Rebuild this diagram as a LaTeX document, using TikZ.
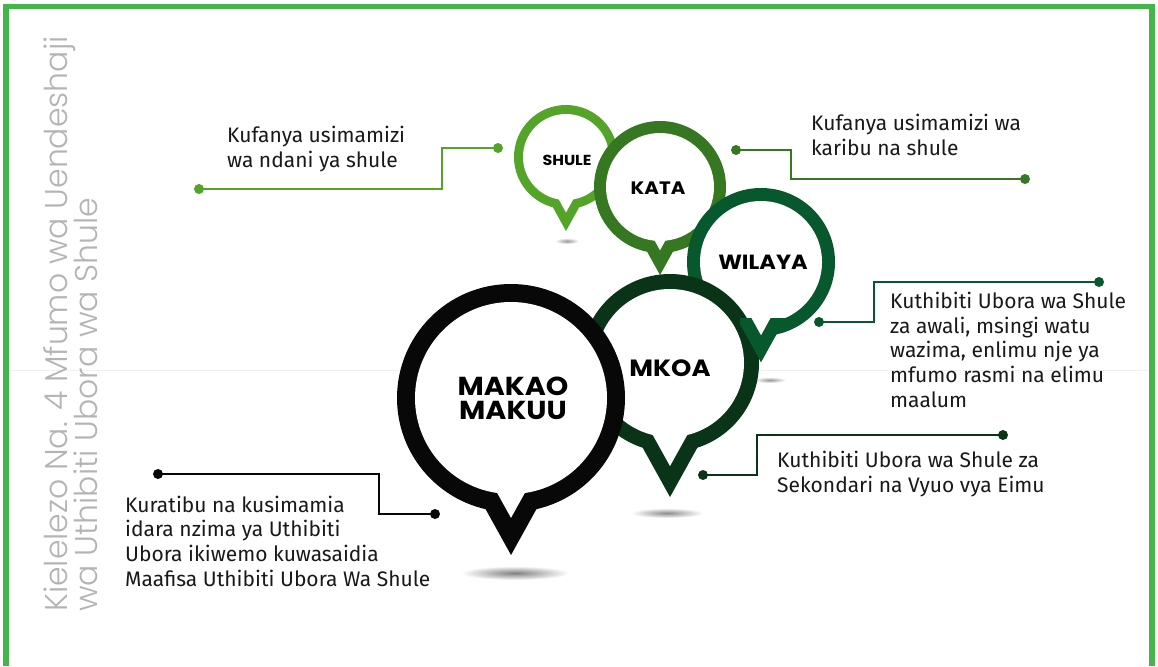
\documentclass[tikz,border=0pt]{standalone}
\usepackage{fontspec}
\setmainfont{Fira Sans}
\newfontfamily\pinfont{Poppins}[FakeStretch=1.1]
\newfontfamily\thinfont{Poppins Light}
\definecolor{frame}{RGB}{68,181,73}
\definecolor{cshule}{RGB}{84,164,42}
\definecolor{ckata}{RGB}{54,120,34}
\definecolor{cwilaya}{RGB}{8,88,46}
\definecolor{cmkoa}{RGB}{10,52,24}
\definecolor{cmakao}{RGB}{8,8,8}
\definecolor{txt}{RGB}{25,25,25}
\definecolor{vtxt}{RGB}{180,180,180}
\newcommand{\mypin}[6]{%
  \pgfmathsetmacro\pinri{#3-#5}%
  \pgfmathsetmacro\pindi{#4-#5/sin(29)}%
  \pgfmathsetmacro\pinwo{#4*tan(29)}%
  \pgfmathsetmacro\pinwi{\pindi*tan(29)}%
  \fill[#6] (#1,#2) circle[radius=#3];
  \fill[#6] (#1-\pinwo,#2) -- (#1,#2+#4) -- (#1+\pinwo,#2) -- cycle;
  \fill[white] (#1,#2) circle[radius=\pinri];
  \fill[white] (#1-\pinwi,#2) -- (#1,#2+\pindi) -- (#1+\pinwi,#2) -- cycle;
}
\tikzset{
  enddot/.style={circle, inner sep=0pt, minimum size=10pt, fill=#1},
  conn/.style={line width=2pt, draw=#1},
  desc/.style={font=\fontsize{21}{24.6}\selectfont, text=txt, align=left, anchor=base west, inner sep=0pt},
  pinlabel/.style={font=\pinfont\bfseries\fontsize{#1}{#1}\selectfont, text=black, align=center, inner sep=0pt},
  vlabel/.style={font=\thinfont\fontsize{31.5}{31.5}\selectfont, text=vtxt, rotate=90, anchor=base west, inner sep=0pt}
}
\begin{document}
\begin{tikzpicture}[x=1pt,y=-1pt]
\useasboundingbox (0,0) rectangle (1158,666);
\fill[white] (0,0) rectangle (1158,666);
% faint guide line
\draw[black!6, line width=0.8pt] (9,370) -- (1149,370);
% frame
\fill[frame] (3,4) rectangle (9,666);
\fill[frame] (3,4) rectangle (1155,9);
\fill[frame] (1149,4) rectangle (1155,666);
% vertical title
\node[vlabel] (v1) at (67,612) {Kielelezo Na. 4 Mfumo wa Uendeshaji};
\node[vlabel] (v2) at (97,612) {wa Uthibiti Ubora wa Shule};
% shadows
\shade[inner color=black!40, outer color=white] (567,241) ellipse[x radius=12, y radius=3];
\shade[inner color=black!40, outer color=white] (770,380) ellipse[x radius=16, y radius=3];
\shade[inner color=black!45, outer color=white] (667,513) ellipse[x radius=36, y radius=5];
\shade[inner color=black!50, outer color=white] (515,573) ellipse[x radius=54, y radius=7];
% pins
\mypin{566}{157}{52}{74}{9}{cshule}
\mypin{660}{187}{66}{88}{12}{ckata}
\mypin{761}{262}{74}{100}{13}{cwilaya}
\mypin{670}{363}{89}{134}{15}{cmkoa}
% WILAYA pointer passes over the MKOA ring
\begin{scope}
  \clip (740,318) rectangle (800,372);
  \pgfmathsetmacro\wwo{100*tan(29)}
  \pgfmathsetmacro\wdi{100-13/sin(29)}
  \pgfmathsetmacro\wwi{\wdi*tan(29)}
  \fill[cwilaya] (761-\wwo,262) -- (761,362) -- (761+\wwo,262) -- cycle;
  \fill[white] (761-\wwi,262) -- (761,262+\wdi) -- (761+\wwi,262) -- cycle;
\end{scope}
\mypin{511}{398}{114}{157}{18}{cmakao}
% pin labels
\node[pinlabel=14.5] (lshule) at (567,160) {SHULE};
\node[pinlabel=18] (lkata) at (658,188) {KATA};
\node[pinlabel=20.5] (lwilaya) at (763,262) {WILAYA};
\node[pinlabel=23.5] (lmkoa) at (670,368) {MKOA};
\node[pinlabel=26] (lmakao) at (513,398) {MAKAO\\[-2pt]MAKUU};
% connector SHULE
\node[enddot=cshule] (a1) at (498,148) {};
\node[enddot=cshule] (a2) at (199,189) {};
\draw[conn=cshule] (a1.center) -- ++(-56,0) |- (a2.center);
\node[desc] (ta) at (227,167) {Kufanya usimamizi\\wa ndani ya shule};
% connector KATA
\node[enddot=ckata] (b1) at (736,150) {};
\node[enddot=ckata] (b2) at (1025,179) {};
\draw[conn=ckata] (b1.center) -- ++(55,0) |- (b2.center);
\node[desc] (tb) at (811,155) {Kufanya usimamizi wa\\karibu na shule};
% connector WILAYA
\node[enddot=cwilaya] (c1) at (819,322) {};
\node[enddot=cwilaya] (c2) at (1099,282) {};
\draw[conn=cwilaya] (c1.center) -- ++(55,0) |- (c2.center);
\node[desc] (tc) at (890,407) {Kuthibiti Ubora wa Shule\\za awali, msingi watu\\wazima, enlimu nje ya\\mfumo rasmi na elimu\\maalum};
% connector MKOA
\node[enddot=cmkoa] (d1) at (703,475) {};
\node[enddot=cmkoa] (d2) at (1003,435) {};
\draw[conn=cmkoa] (d1.center) -- ++(54,0) |- (d2.center);
\node[desc] (td) at (777,492) {Kuthibiti Ubora wa Shule za\\Sekondari na Vyuo vya Eimu};
% connector MAKAO MAKUU
\node[enddot=cmakao] (e1) at (158,474) {};
\node[enddot=cmakao] (e2) at (435,514) {};
\draw[conn=cmakao] (e1.center) -- ++(221,0) |- (e2.center);
\node[desc] (te) at (125,586) {Kuratibu na kusimamia\\idara nzima ya Uthibiti\\Ubora ikiwemo kuwasaidia\\Maafisa Uthibiti Ubora Wa Shule};
\end{tikzpicture}
\end{document}
